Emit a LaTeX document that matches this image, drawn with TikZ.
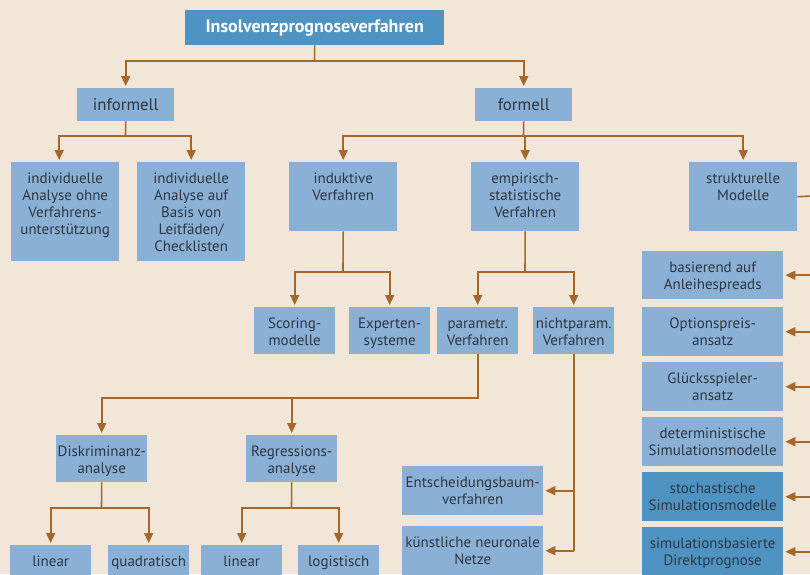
\documentclass[tikz,border=0pt]{standalone}
\usepackage{fontspec}
\setmainfont{PT Sans}
\usetikzlibrary{arrows.meta}
\definecolor{bg}{HTML}{F2E6D8}
\definecolor{lb}{HTML}{8AB0D5}
\definecolor{db}{HTML}{4E93C2}
\definecolor{br}{HTML}{A6682A}
\definecolor{txc}{HTML}{2D3641}
\newcommand\mybox[7]{%
  \node[#6, minimum width=#4pt, minimum height=#5pt, anchor=north west] (#1) at (#2,#3) {};
  \node[txt, anchor=north] at (#1.north) {\rule{0pt}{21.5pt}#7};}
\begin{document}
\begin{tikzpicture}[x=1pt,y=-1pt,
  light/.style={rectangle, fill=lb, draw=none, inner sep=0pt},
  dark/.style={rectangle, fill=db, draw=none, inner sep=0pt},
  txt/.style={align=center, inner sep=0pt, text=txc, font=\fontsize{15}{17}\selectfont},
  big/.style={font=\fontsize{16.8}{17}\selectfont},
  conn/.style={draw=br, line width=1.6pt},
  arr/.style={conn, -{Triangle[width=9pt,length=10pt]}, shorten >=2pt}]
\fill[bg] (0,0) rectangle (810,574);
\useasboundingbox (0,0) rectangle (810,574);

% boxes
\node[dark, minimum width=259pt, minimum height=35pt, anchor=north west] (title) at (185,10) {};
\node[inner sep=0pt, text=white, font=\fontsize{18}{18}\selectfont\bfseries] at ([yshift=-0.5pt]title.center) {Insolvenzprognoseverfahren};

\node[light, minimum width=97pt, minimum height=33pt, anchor=north west] (inf) at (77,88) {};
\node[txt, big, anchor=north] at (inf.north) {\rule{0pt}{22pt}informell};
\node[light, minimum width=97pt, minimum height=33pt, anchor=north west] (form) at (475,88) {};
\node[txt, big, anchor=north] at (form.north) {\rule{0pt}{22pt}formell};

\mybox{ind1}{11}{162}{108}{99}{light}{individuelle\\Analyse ohne\\Verfahrens-\\unterstützung}
\mybox{ind2}{137}{162}{108}{99}{light}{individuelle\\Analyse auf\\Basis von\\Leitfäden/\\Checklisten}
\mybox{induk}{289}{162}{108}{69}{light}{induktive\\Verfahren}
\mybox{emp}{471}{162}{108}{69}{light}{empirisch-\\statistische\\Verfahren}
\mybox{struk}{689}{162}{108}{69}{light}{strukturelle\\Modelle}
\mybox{score}{254}{307}{81}{47}{light}{Scoring-\\modelle}
\mybox{expert}{349}{307}{81}{47}{light}{Experten-\\systeme}
\mybox{param}{437}{307}{81}{47}{light}{parametr.\\Verfahren}
\mybox{nparam}{533}{307}{81}{47}{light}{nichtparam.\\Verfahren}
\mybox{disk}{56}{435}{91}{47}{light}{Diskriminanz-\\analyse}
\mybox{regr}{246}{435}{91}{47}{light}{Regressions-\\analyse}
\mybox{lin1}{10}{545}{81}{47}{light}{linear}
\mybox{quad}{108}{545}{81}{47}{light}{quadratisch}
\mybox{lin2}{201}{545}{81}{47}{light}{linear}
\mybox{logi}{298}{545}{81}{47}{light}{logistisch}
\mybox{entsch}{402}{466}{141}{49}{light}{Entscheidungsbaum-\\verfahren}
\mybox{knn}{402}{526}{141}{49}{light}{künstliche neuronale\\Netze}
\mybox{r1}{642}{251}{141}{48}{light}{basierend auf\\Anleihespreads}
\mybox{r2}{642}{307}{141}{49}{light}{Optionspreis-\\ansatz}
\mybox{r3}{642}{362}{141}{49}{light}{Glücksspieler-\\ansatz}
\mybox{r4}{642}{417}{141}{49}{light}{deterministische\\Simulationsmodelle}
\mybox{r5}{642}{472}{141}{49}{dark}{stochastische\\Simulationsmodelle}
\mybox{r6}{642}{527}{141}{49}{dark}{simulationsbasierte\\Direktprognose}

% junctions
\coordinate (j1) at (314.5,61);
\coordinate (j2) at (125.5,136);
\coordinate (j3) at (523.5,136);
\coordinate (j4) at (343,272);
\coordinate (j5) at (525,272);
\coordinate (j6) at (477.5,398);
\coordinate (j7) at (101.5,508);
\coordinate (j8) at (291.5,508);
\coordinate (rail) at (812,196);

% connectors
\draw[conn] (title.south) -- (j1);
\draw[arr] (j1) -| (inf.north);
\draw[arr] (j1) -| (form.north);

\draw[conn] (inf.south) -- (j2);
\draw[arr] (j2) -| ([xshift=-6pt]ind1.north);
\draw[arr] (j2) -| (ind2.north);

\draw[conn] (form.south) -- (j3);
\draw[arr] (j3) -| (induk.north);
\draw[arr] (j3) -| (emp.north);
\draw[arr] (j3) -| (struk.north);

\draw[conn] (induk.south) -- (j4);
\draw[arr] (j4) -| (score.north);
\draw[arr] (j4) -| (expert.north);

\draw[conn] (emp.south) -- (j5);
\draw[arr] (j5) -| (param.north);
\draw[arr] (j5) -| (nparam.north);

\draw[conn] (param.south) |- (j6);
\draw[arr] (j6) -| (disk.north);
\draw[arr] (j6) -| (regr.north);

\draw[conn] (disk.south) -- (j7);
\draw[arr] (j7) -| (lin1.north);
\draw[arr] (j7) -| (quad.north);

\draw[conn] (regr.south) -- (j8);
\draw[arr] (j8) -| (lin2.north);
\draw[arr] (j8) -| (logi.north);

\draw[conn] (nparam.south) -- (nparam.south |- knn.east);
\draw[arr] (nparam.south |- entsch.east) -- (entsch.east);
\draw[arr] (nparam.south |- knn.east) -- (knn.east);

\draw[conn] (struk.east) -- (rail) -- (rail |- r6.east);
\foreach \r in {r1,r2,r3,r4,r5,r6}
  \draw[arr] (rail |- \r.east) -- (\r.east);
\end{tikzpicture}
\end{document}
